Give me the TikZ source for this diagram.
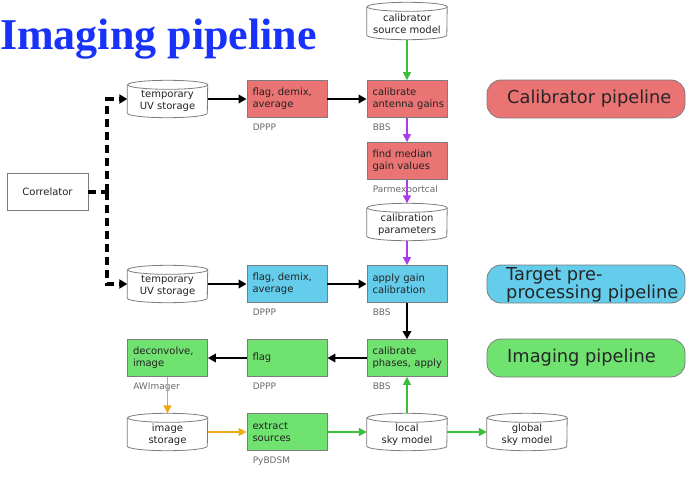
\documentclass[tikz,border=0pt]{standalone}
\usepackage{fontspec}
\setmainfont{DejaVu Sans}
\newfontfamily\titlefont{Liberation Serif}
\usetikzlibrary{arrows.meta}

\definecolor{titleblue}{RGB}{25,50,250}
\definecolor{calred}{RGB}{234,115,115}
\definecolor{tgtblue}{RGB}{100,205,235}
\definecolor{imggreen}{RGB}{112,226,112}
\definecolor{edgegray}{RGB}{125,125,125}
\definecolor{toolgray}{RGB}{105,105,105}
\definecolor{boxtext}{RGB}{35,35,35}
\definecolor{arrgreen}{RGB}{60,190,60}
\definecolor{arrpurple}{RGB}{170,60,235}
\definecolor{arrorange}{RGB}{235,170,20}

% data store drawn as a cylinder around an invisible frame node
\newcommand\dbstore[4]{%
  \node[store] (#1) at (#2,#3) {};
  \draw[draw=edgegray, line width=0.8pt, fill=white]
    ([yshift=-4.5pt]#1.north west) -- ([yshift=4.5pt]#1.south west)
    arc[start angle=180, end angle=360, x radius=40pt, y radius=4.5pt]
    -- ([yshift=-4.5pt]#1.north east)
    arc[start angle=0, end angle=360, x radius=40pt, y radius=4.5pt];
  \node[align=center, inner sep=0pt] at ([yshift=-2.5pt]#1.center) {#4};
}

\begin{document}
\begin{tikzpicture}[x=1pt, y=-1pt,
  every node/.style={font=\fontsize{10}{12}\selectfont, text=boxtext},
  task/.style={draw=edgegray, line width=0.8pt, minimum width=80pt,
    minimum height=37pt, text width=69pt, align=left, inner xsep=5.5pt,
    inner ysep=0pt,
    execute at begin node={\hbadness=10000\hfuzz=50pt\hyphenpenalty=10000}},
  calbox/.style={task, fill=calred},
  tgtbox/.style={task, fill=tgtblue},
  imgbox/.style={task, fill=imggreen},
  store/.style={minimum width=80pt, minimum height=37pt, inner sep=0pt},
  tool/.style={font=\fontsize{9}{10}\selectfont, text=toolgray,
    anchor=base west, inner sep=0pt},
  pipe/.style={draw=edgegray, line width=0.8pt, rounded corners=14pt,
    minimum width=198pt, minimum height=38pt, inner sep=0pt},
  ptext/.style={font=\fontsize{17.8}{15}\selectfont, text=black!85,
    anchor=west, align=left, inner sep=0pt},
  flow/.style={draw=black, line width=1.9pt,
    -{Triangle[length=8pt,width=8.5pt]}},
  cflow/.style={line width=1.3pt, -{Triangle[length=8pt,width=8pt]}},
  dashline/.style={draw=black, line width=4pt, dash pattern=on 8pt off 5pt},
]
\useasboundingbox (0,0) rectangle (686,483);

% title
\node[anchor=base west, inner sep=0pt,
  font=\fontsize{44}{44}\selectfont\titlefont\bfseries, text=titleblue]
  (title) at (0,49) {Imaging pipeline};

% calibrator branch
\dbstore{csm}{407}{21}{calibrator\\source model}
\dbstore{tuvA}{167.5}{99}{temporary\\UV storage}
\node[calbox] (fdaA) at (287,99) {\mbox{flag, demix,}\\average};
\node[calbox] (cag) at (407,99) {calibrate\\\mbox{antenna gains}};
\node[calbox] (fmg) at (407,161) {\mbox{find median}\\\mbox{gain values}};
\dbstore{cpar}{407}{222}{calibration\\parameters}

% target branch
\dbstore{tuvB}{167.5}{284}{temporary\\UV storage}
\node[tgtbox] (fdaB) at (287,284) {\mbox{flag, demix,}\\average};
\node[tgtbox] (agc) at (407,284) {\mbox{apply gain}\\calibration};

% correlator
\node[draw=edgegray, line width=0.8pt, fill=white, minimum width=81pt,
  minimum height=37pt] (corr) at (47.5,191.5) {Correlator};

% imaging branch
\node[imgbox] (dec) at (167.5,358) {deconvolve,\\image};
\node[imgbox] (flg) at (287,358) {flag};
\node[imgbox] (cpa) at (407,358) {calibrate\\\mbox{phases, apply}};
\dbstore{ims}{167.5}{432}{image\\storage}
\node[imgbox] (exs) at (287,432) {extract\\sources};
\dbstore{lsm}{407}{432}{local\\sky model}
\dbstore{gsm}{527}{432}{global\\sky model}

% tools that run each step
\node[tool] at ([xshift=6pt, yshift=-12.5pt]fdaA.south west) {DPPP};
\node[tool] at ([xshift=6pt, yshift=-12.5pt]cag.south west) {BBS};
\node[tool] at ([xshift=6pt, yshift=-12.5pt]fmg.south west) {Parmexportcal};
\node[tool] at ([xshift=6pt, yshift=-12.5pt]fdaB.south west) {DPPP};
\node[tool] at ([xshift=6pt, yshift=-12.5pt]agc.south west) {BBS};
\node[tool] at ([xshift=6pt, yshift=-12.5pt]dec.south west) {AWImager};
\node[tool] at ([xshift=6pt, yshift=-12.5pt]flg.south west) {DPPP};
\node[tool] at ([xshift=6pt, yshift=-12.5pt]cpa.south west) {BBS};
\node[tool] at ([xshift=6pt, yshift=-12.5pt]exs.south west) {PyBDSM};

% pipeline legends
\node[pipe, fill=calred] (calpipe) at (586,99) {};
\node[ptext] at (507,99) {Calibrator pipeline};
\node[pipe, fill=tgtblue] (tgtpipe) at (586,284) {};
\node[ptext] at (506,284.5) {Target pre-\\processing pipeline};
\node[pipe, fill=imggreen] (imgpipe) at (586,358) {};
\node[ptext] at (507,358) {Imaging pipeline};

% correlator output
\coordinate (split) at (107,191.5);
\draw[dashline] (corr.east) -- (split);
\draw[dashline, -{Triangle[length=8pt,width=9pt]}] (split) |- (tuvA.west);
\draw[dashline, -{Triangle[length=8pt,width=9pt]}] (split) |- (tuvB.west);

% data flow
\draw[flow] (tuvA.east) -- (fdaA.west);
\draw[flow] (fdaA.east) -- (cag.west);
\draw[flow] (tuvB.east) -- (fdaB.west);
\draw[flow] (fdaB.east) -- (agc.west);
\draw[flow] (agc.south) -- (cpa.north);
\draw[flow] (cpa.west) -- (flg.east);
\draw[flow] (flg.west) -- (dec.east);

\draw[cflow, arrgreen] (csm.south) -- (cag.north);
\draw[cflow, arrpurple] (cag.south) -- (fmg.north);
\draw[cflow, arrpurple] (fmg.south) -- (cpar.north);
\draw[cflow, arrpurple] (cpar.south) -- (agc.north);
\draw[cflow, arrorange] (dec.south) -- (ims.north);
\draw[cflow, arrorange] (ims.east) -- (exs.west);
\draw[cflow, arrgreen] (exs.east) -- (lsm.west);
\draw[cflow, arrgreen] (lsm.north) -- (cpa.south);
\draw[cflow, arrgreen] (lsm.east) -- (gsm.west);
\end{tikzpicture}
\end{document}
